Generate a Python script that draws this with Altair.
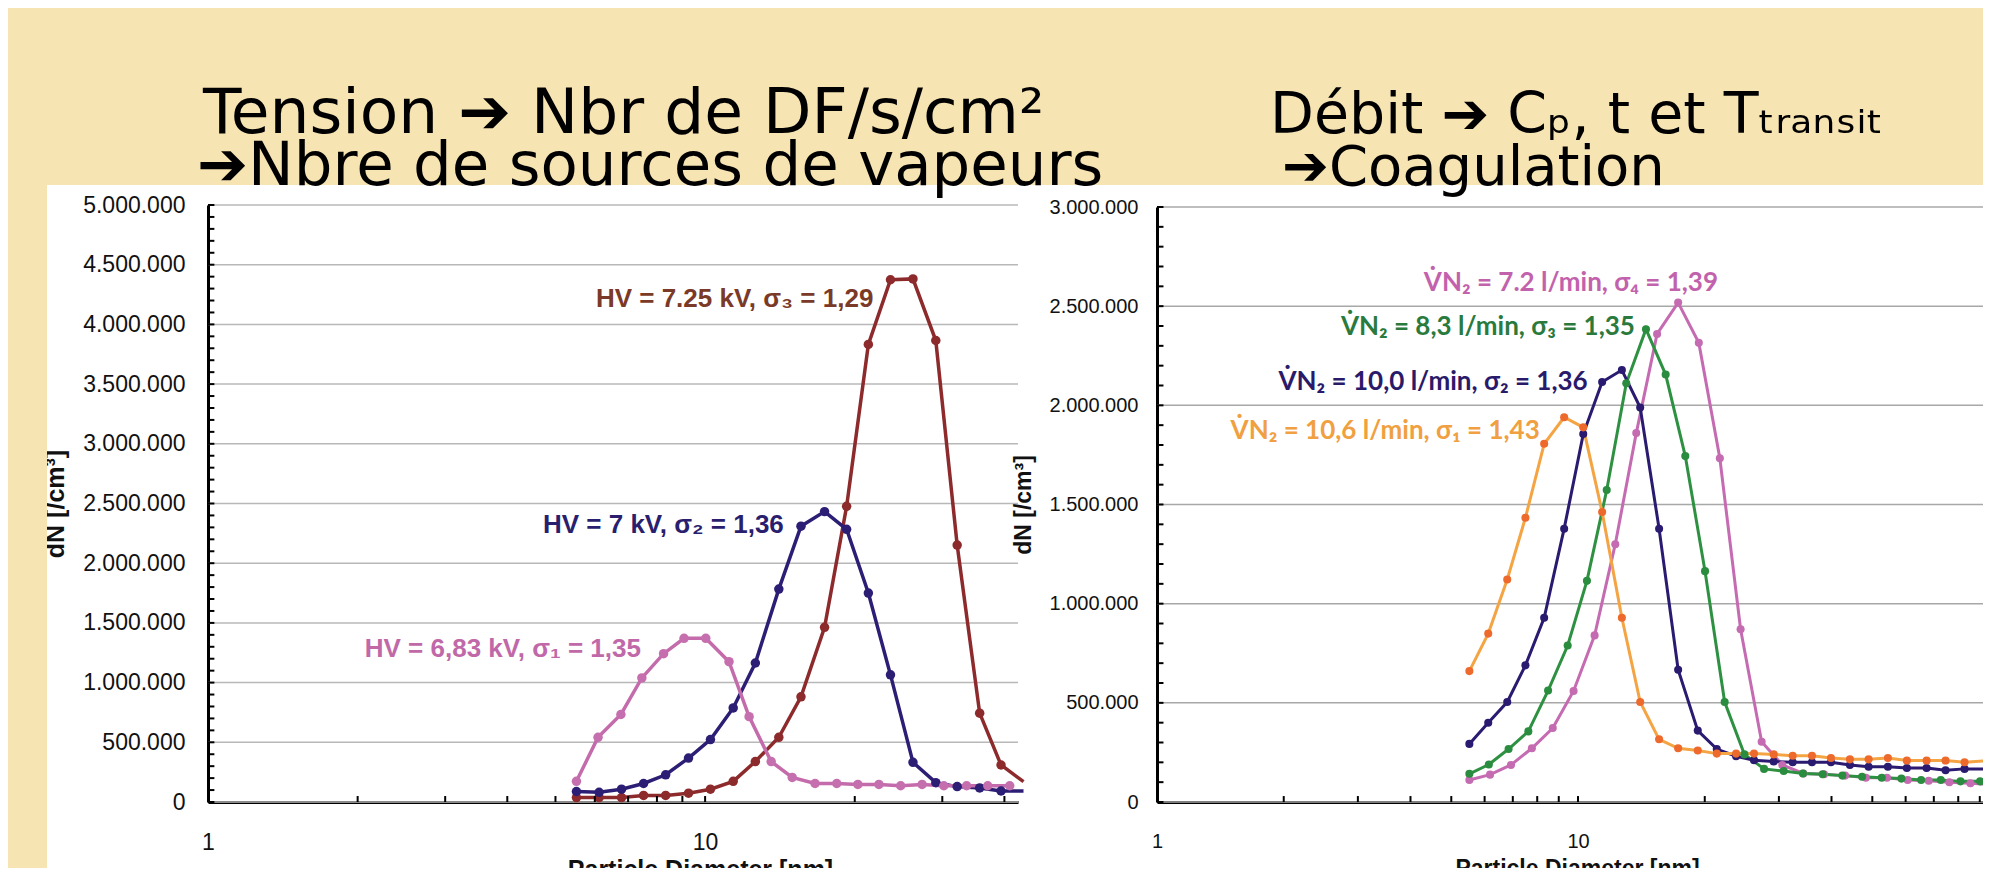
import altair as alt
import pandas as pd

# ---------------- Left panel (HV series) ----------------
hv1_d = [5.51, 6.09, 6.77, 7.46, 8.25, 9.07, 10.03, 11.17, 12.26, 13.58, 14.97, 16.64,
         18.40, 20.29, 22.37, 24.74, 27.32, 30.21, 33.58, 37.03, 41.0]
hv1_n = [173000, 542000, 733000, 1039000, 1242000, 1371000, 1371000, 1175000, 715000,
         339000, 206000, 155000, 155000, 147000, 147000, 136000, 147000, 136000, 136000,
         136000, 136000]

hv23_d = [5.51, 6.12, 6.79, 7.52, 8.33, 9.26, 10.25, 11.39, 12.62, 14.07, 15.59, 17.39,
          19.26, 21.30, 23.60, 26.19, 29.11, 32.14, 35.67, 39.38, 43.7]
hv2_n = [88000, 81000, 107000, 155000, 228000, 368000, 523000, 788000, 1164000, 1783000,
         2310000, 2432000, 2284000, 1750000, 1065000, 332000, 162000, 129000, 118000,
         92000, 92000]
hv3_n = [37000, 37000, 37000, 55000, 55000, 74000, 107000, 173000, 339000, 542000,
         881000, 1463000, 2476000, 3832000, 4374000, 4381000, 3865000, 2152000, 744000,
         310000, 170000]

left_labels = ["HV = 7.25 kV, σ₃ = 1,29", "HV = 7 kV, σ₂ = 1,36", "HV = 6,83 kV, σ₁ = 1,35"]
left_label_x = [21.8, 14.4, 7.43]
left_label_y = [4215000, 2320000, 1280000]
left_label_c = ["#7A3A27", "#2A1F6E", "#C068A8"]

# ---------------- Right panel (flow series) ----------------
q1_d = [5.52, 6.12, 6.79, 7.50, 8.31, 9.27, 10.29, 11.41, 12.71, 14.05, 15.58, 17.29,
        19.25, 21.36, 23.74, 26.18, 29.16, 32.35, 35.95, 39.88, 44.24, 49.00, 54.45,
        60.40, 67.29, 74.64, 82.80, 91.87]
q1_n = [660000, 849000, 1122000, 1433000, 1806000, 1940000, 1889000, 1462000, 929000,
        504000, 316000, 271000, 260000, 244000, 244000, 244000, 240000, 233000, 233000,
        222000, 215000, 215000, 222000, 209000, 209000, 209000, 200000, 207000]
q2_n = [293000, 400000, 504000, 689000, 929000, 1378000, 1855000, 2118000, 2178000,
        1989000, 1378000, 667000, 360000, 267000, 231000, 211000, 204000, 200000, 200000,
        200000, 187000, 178000, 178000, 171000, 171000, 160000, 167000, 167000]
q3_d = [5.52, 6.14, 6.84, 7.62, 8.49, 9.45, 10.50, 11.70, 13.02, 14.50, 16.15, 17.98,
        20.03, 22.30, 24.84, 27.66, 30.80, 34.22, 38.11, 42.45, 47.28, 52.65, 58.63,
        65.30, 72.72, 80.98, 90.15]
q3_n = [142000, 189000, 267000, 356000, 562000, 789000, 1115000, 1573000, 2111000,
        2384000, 2155000, 1744000, 1164000, 504000, 240000, 167000, 156000, 144000,
        140000, 133000, 127000, 122000, 118000, 111000, 111000, 104000, 104000]
q4_d = [5.52, 6.18, 6.93, 7.77, 8.71, 9.76, 10.95, 12.26, 13.75, 15.41, 17.29, 19.36,
        21.72, 24.33, 27.30, 30.56, 34.29, 38.40, 43.09, 48.27, 54.17, 60.67, 68.07,
        76.21, 85.51, 95.7]
q4_n = [111000, 138000, 187000, 271000, 373000, 560000, 840000, 1300000, 1860000,
        2360000, 2518000, 2315000, 1733000, 871000, 304000, 187000, 144000, 140000,
        133000, 122000, 122000, 111000, 107000, 100000, 95000, 89000]

right_labels = ["V̇N₂ = 7.2 l/min, σ₄ = 1,39", "V̇N₂ = 8,3 l/min, σ₃ = 1,35",
                "V̇N₂ = 10,0 l/min, σ₂ = 1,36", "V̇N₂ = 10,6 l/min, σ₁ = 1,43"]
right_label_x = [21.5, 13.65, 10.54, 8.11]
right_label_y = [2618000, 2395000, 2118000, 1871000]
right_label_c = ["#C262AC", "#2A7A3E", "#2A1A6A", "#F0A040"]

left_yvals = [0, 500000, 1000000, 1500000, 2000000, 2500000, 3000000, 3500000,
              4000000, 4500000, 5000000]
right_yvals = [0, 500000, 1000000, 1500000, 2000000, 2500000, 3000000]
x_label_vals = [1, 10]
left_ticks_y = list(range(0, 5000001, 100000))
right_ticks_y = list(range(0, 3000001, 100000))
left_ticks_x = [2, 3, 4, 5, 6, 7, 8, 9, 10, 20, 30, 40]
right_ticks_x = [2, 3, 4, 5, 6, 7, 8, 9, 10, 20, 30, 40, 50, 60, 70, 80, 90]

title_lines = ["Tension ➔ Nbr de DF/s/cm²", "➔Nbre de sources de vapeurs",
               "Débit ➔ Cₚ, t et Tₜᵣₐₙₛᵢₜ", "➔Coagulation"]


def sdf(d, n, name, lc, pc):
    return pd.DataFrame({"d": d, "n": n, "s": name, "lc": lc, "pc": pc})


left_df = pd.concat([
    sdf(hv23_d, hv3_n, "hv3", "#8C2A2C", "#8C2A2C"),
    sdf(hv23_d, hv2_n, "hv2", "#2C1E74", "#2C1E74"),
    sdf(hv1_d, hv1_n, "hv1", "#C46BAB", "#C66FAE"),
])
right_df = pd.concat([
    sdf(q4_d, q4_n, "q4", "#C56BB2", "#C56BB2"),
    sdf(q3_d, q3_n, "q3", "#2E9142", "#2A8C3E"),
    sdf(q1_d, q2_n, "q2", "#2A1A70", "#2A1A70"),
    sdf(q1_d, q1_n, "q1", "#F4A443", "#EE6A2C"),
])
left_lab = pd.DataFrame({"x": left_label_x, "y": left_label_y, "t": left_labels, "c": left_label_c})
right_lab = pd.DataFrame({"x": right_label_x, "y": right_label_y, "t": right_labels, "c": right_label_c})

W, H = 810, 597          # left plot area = the view
BEIGE = "#F7E4B3"
YFMT = "replace(replace(datum.label, ',', '.'), ',', '.')"


def panel(df, lab, xdom, xrng, ydom, yrng, yvals, yticks, xticks, tx2, ty2,
          lab_font, lab_size, ax_lab, ax_title, y_axis_extra, xtitle_x,
          pt_size, line_w, grid_c):
    xs = alt.Scale(type="log", domain=xdom, range=xrng, nice=False)
    ys = alt.Scale(type="linear", domain=ydom, range=yrng, nice=False, zero=False)
    x_axis = alt.Axis(orient="bottom", values=x_label_vals, format="d",
                      grid=False, ticks=False,
                      domainColor="black", domainWidth=3, labelFont="Liberation Sans",
                      labelFontSize=ax_lab, labelColor="#111111", labelPadding=29,
                      labelFlush=False, labelOverlap=False,
                      title="Particle Diameter [nm]", titleFont="Liberation Sans",
                      titleFontSize=ax_title, titleFontWeight="bold", titleColor="#111111",
                      titleX=xtitle_x, titleY=55, titleBaseline="top")
    y_axis = alt.Axis(values=yvals, format=",d", labelExpr=YFMT,
                      grid=False, ticks=False,
                      domainColor="black", domainWidth=3, labelFont="Liberation Sans",
                      labelFontSize=ax_lab, labelColor="#111111",
                      labelFlush=False, labelOverlap=False,
                      title="dN [/cm³]", titleFont="Liberation Sans",
                      titleFontSize=ax_title, titleFontWeight="bold", titleColor="#111111",
                      titleBaseline="middle", titleAngle=270, **y_axis_extra)
    grid = alt.Chart(pd.DataFrame({"v": yvals})).mark_rule(color=grid_c, strokeWidth=1.5).encode(
        y=alt.Y("v:Q", scale=ys, axis=None),
        x=alt.XDatum(xdom[0], scale=xs, axis=None, type="quantitative"),
        x2=alt.X2Datum(xdom[1]),
    )
    lines = alt.Chart(df).mark_line(strokeWidth=line_w).encode(
        x=alt.X("d:Q", scale=xs, axis=x_axis),
        y=alt.Y("n:Q", scale=ys, axis=y_axis),
        color=alt.Color("lc:N", scale=None),
        detail="s:N",
    )
    pts = alt.Chart(df).transform_filter(alt.datum.d <= xdom[1]).mark_circle(
        size=pt_size, opacity=1).encode(
        x=alt.X("d:Q", scale=xs, axis=None),
        y=alt.Y("n:Q", scale=ys, axis=None),
        color=alt.Color("pc:N", scale=None),
        detail="s:N",
    )
    yt = alt.Chart(pd.DataFrame({"v": yticks})).mark_rule(color="black", strokeWidth=2).encode(
        y=alt.Y("v:Q", scale=ys, axis=None),
        x=alt.XDatum(1, scale=xs, axis=None, type="quantitative"),
        x2=alt.X2Datum(tx2),
    )
    xt = alt.Chart(pd.DataFrame({"v": xticks})).mark_rule(color="black", strokeWidth=2).encode(
        x=alt.X("v:Q", scale=xs, axis=None),
        y=alt.YDatum(0, scale=ys, axis=None, type="quantitative"),
        y2=alt.Y2Datum(ty2),
    )
    texts = alt.Chart(lab).mark_text(align="right", baseline="middle", font=lab_font,
                                     fontSize=lab_size, fontWeight="bold").encode(
        x=alt.X("x:Q", scale=xs, axis=None),
        y=alt.Y("y:Q", scale=ys, axis=None),
        text="t:N",
        color=alt.Color("c:N", scale=None),
    )
    return [grid, lines, pts, yt, xt, texts]


left = panel(left_df, left_lab, [1, 42.6], [0, W], [0, 5000000], [H, 0],
             left_yvals, left_ticks_y, left_ticks_x, 1.03, 50000,
             "Liberation Sans", 26, 23, 25,
             dict(orient="left", labelPadding=23, titleX=-153),
             492, 90, 3.5, "#B8B8B8")
right = panel(right_df, right_lab, [1, 91.6], [949, 1775], [0, 3000000], [H, 2],
              right_yvals, right_ticks_y, right_ticks_x, 1.036, 30000,
              "Lato", 26, 20, 23,
              dict(orient="right", offset=139, labelAlign="right", labelPadding=-19,
                   titleX=-134),
              1369, 65, 3, "#A8A8A8")

one = alt.Data(values=[{"k": 1}])
beige_top = alt.Chart(one).mark_rect(color=BEIGE).encode(
    x=alt.value(-200), x2=alt.value(1775), y=alt.value(-197), y2=alt.value(-20))
beige_left = alt.Chart(one).mark_rect(color=BEIGE).encode(
    x=alt.value(-200), x2=alt.value(-161), y=alt.value(-20), y2=alt.value(663))


def title_text(txt, x, y, size):
    return alt.Chart(one).mark_text(
        align="left", baseline="alphabetic", font="DejaVu Sans", fontSize=size,
        color="black").encode(x=alt.value(x), y=alt.value(y), text=alt.value(txt))


titles = [
    title_text(title_lines[0], -5, -72, 63),
    title_text(title_lines[1], -11, -20, 61),
    title_text(title_lines[2], 1062, -72, 57),
    title_text(title_lines[3], 1074, -20, 56),
]

chart = alt.layer(beige_top, beige_left, *left, *right, *titles).resolve_scale(
    x="independent", y="independent"
).properties(
    width=W, height=H,
    padding={"left": 200, "top": 197, "right": 965, "bottom": 66},
    autosize=alt.AutoSizeParams(type="none"),
    background="white",
).configure_view(stroke=None)

chart.save("out.html", embed_options={"renderer": "svg", "actions": False})
